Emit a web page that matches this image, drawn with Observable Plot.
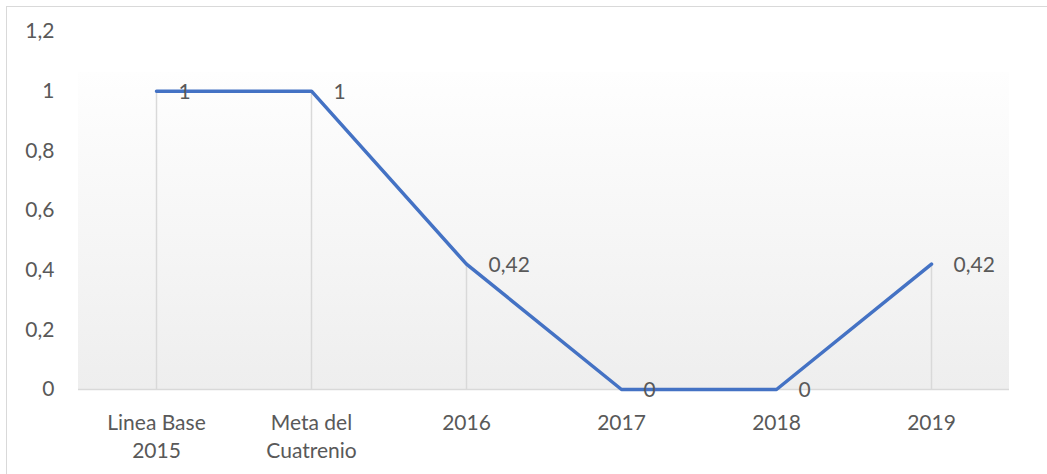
<!DOCTYPE html>
<html>
<head>
<meta charset="utf-8">
<script src="https://cdn.jsdelivr.net/npm/d3@7"></script>
<script src="https://cdn.jsdelivr.net/npm/@observablehq/plot@0.6"></script>
<style>
  html, body { margin: 0; padding: 0; background: #fff; }
  #chart { position: relative; width: 1047px; height: 474px; overflow: hidden; }
  #border { position: absolute; left: 6px; top: 6px; width: 1100px; height: 600px; border: 1.5px solid #d9d9d9; box-sizing: border-box; }
  #chart svg { position: absolute; left: 0; top: 0; }
</style>
</head>
<body>
<div id="chart"><div id="border"></div></div>
<script>
const categories = ["Linea Base 2015", "Meta del Cuatrenio", "2016", "2017", "2018", "2019"];
const tickLabels = ["Linea Base\n2015", "Meta del\nCuatrenio", "2016", "2017", "2018", "2019"];
const values = [1, 1, 0.42, 0, 0, 0.42];
const yTicks = [0, 0.2, 0.4, 0.6, 0.8, 1, 1.2];

const data = categories.map((c, i) => ({cat: c, value: values[i]}));
const fmt = v => String(+v.toFixed(2)).replace(".", ",");
const font = "Lato, 'Open Sans', sans-serif";

const background = (index, scales, values, dims) => {
  const ns = "http://www.w3.org/2000/svg";
  const g = document.createElementNS(ns, "g");
  const defs = document.createElementNS(ns, "defs");
  defs.innerHTML = `<linearGradient id="bg" x1="0" y1="0" x2="0" y2="1">
    <stop offset="0" stop-color="#fefefe"/><stop offset="1" stop-color="#eeeeee"/></linearGradient>`;
  g.appendChild(defs);
  const r = document.createElementNS(ns, "rect");
  const top = scales.y(1.2) + 41;
  const bottom = dims.height - dims.marginBottom;
  r.setAttribute("x", dims.marginLeft);
  r.setAttribute("y", top);
  r.setAttribute("width", dims.width - dims.marginLeft - dims.marginRight);
  r.setAttribute("height", bottom - top);
  r.setAttribute("fill", "url(#bg)");
  g.appendChild(r);
  return g;
};

const chart = Plot.plot({
  width: 1047,
  height: 474,
  marginLeft: 78,
  marginRight: 38,
  marginTop: 31,
  marginBottom: 85,
  style: {fontFamily: font, fontSize: "21px", color: "#595959", background: "transparent"},
  x: {type: "point", domain: categories, padding: 0.5},
  y: {domain: [0, 1.2]},
  marks: [
    background,
    Plot.ruleX(data, {x: "cat", y1: 0, y2: "value", stroke: "#d9d9d9", strokeWidth: 1.5}),
    Plot.ruleY([0], {stroke: "#d9d9d9", strokeWidth: 1.5}),
    Plot.axisY({ticks: yTicks, tickSize: 0, tickPadding: 24, tickFormat: fmt, fill: "#595959", fontSize: 21, label: null}),
    Plot.axisX({tickSize: 0, tickPadding: 21, tickFormat: d => tickLabels[categories.indexOf(d)], fill: "#595959", fontSize: 21, lineHeight: 1.33, label: null}),
    Plot.line(data, {x: "cat", y: "value", stroke: "#4472C4", strokeWidth: 3.5, strokeLinejoin: "round"}),
    Plot.text(data, {x: "cat", y: "value", text: d => fmt(d.value), textAnchor: "start", dx: 22, dy: 1, fill: "#595959", fontSize: 21})
  ]
});
document.getElementById("chart").appendChild(chart);
</script>
</body>
</html>
